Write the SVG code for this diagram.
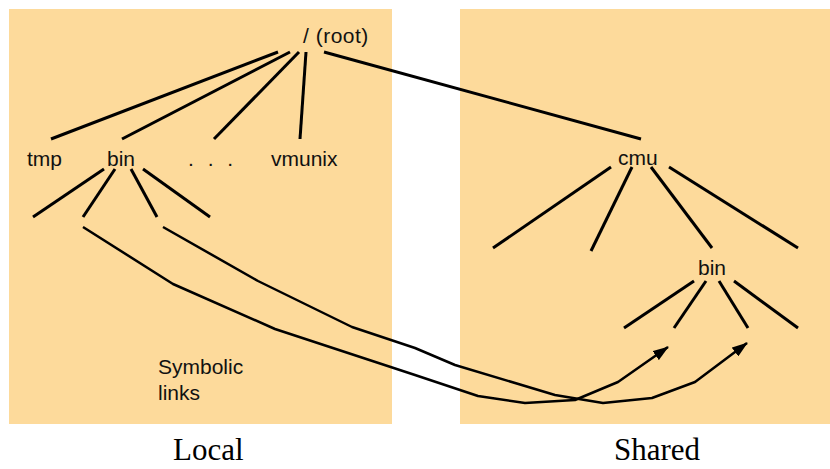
<svg xmlns="http://www.w3.org/2000/svg" width="830" height="469" viewBox="0 0 830 469">
<style>
.panel{fill:#FDDA9B;stroke:none}
.lbl{font-family:"Liberation Sans",Arial,sans-serif;font-size:21px;fill:#111}
.cap{font-family:"Liberation Serif","Times New Roman",serif;font-size:31px;fill:#000}
.tree{stroke:#000;stroke-width:3;fill:none;stroke-linecap:butt}
.link{stroke:#000;stroke-width:2.5;fill:none;stroke-linejoin:round}
</style>
<defs>
<marker id="ah" viewBox="0 0 16 11" refX="15" refY="5.5" markerWidth="16" markerHeight="11" markerUnits="userSpaceOnUse" orient="auto">
<path d="M0,0 L16,5.5 L0,11 Z" fill="#000"/>
</marker>
</defs>
<g id="panel-local"><rect class="panel" x="9" y="9" width="383" height="415"/></g>
<g id="panel-shared"><rect class="panel" x="460" y="9" width="370" height="415"/></g>

<g id="connectors">
<line class="tree" x1="278" y1="52" x2="51" y2="139"/>
<line class="tree" x1="290" y1="52" x2="122" y2="139"/>
<line class="tree" x1="299" y1="52" x2="214" y2="139"/>
<line class="tree" x1="306" y1="52" x2="300" y2="139"/>
<line class="tree" x1="324" y1="52" x2="641" y2="139"/>
<line class="tree" x1="104" y1="169" x2="33" y2="217"/>
<line class="tree" x1="115" y1="169" x2="83" y2="217"/>
<line class="tree" x1="131" y1="169" x2="157" y2="217"/>
<line class="tree" x1="143" y1="169" x2="210" y2="217"/>
<line class="tree" x1="611" y1="167" x2="493" y2="248"/>
<line class="tree" x1="632" y1="167" x2="591" y2="251"/>
<line class="tree" x1="651" y1="167" x2="712" y2="248"/>
<line class="tree" x1="669" y1="167" x2="798" y2="248"/>
<line class="tree" x1="694" y1="281" x2="624" y2="328"/>
<line class="tree" x1="706" y1="281" x2="674" y2="328"/>
<line class="tree" x1="719" y1="281" x2="748" y2="328"/>
<line class="tree" x1="734" y1="281" x2="798" y2="328"/>
<polyline class="link" marker-end="url(#ah)" points="83,227 173,284 275,329 415,375 478,396 525,403 575,400 618,382 668,347"/>
<polyline class="link" marker-end="url(#ah)" points="163,227 258,281 352,327 415,348 455,365 555,395 603,403 652,398 695,382 747,343"/>
</g>

<g id="node-root"><text class="lbl" x="303" y="43" letter-spacing="0.5">/ (root)</text></g>
<g id="node-tmp"><text class="lbl" x="27" y="166">tmp</text></g>
<g id="node-bin-local"><text class="lbl" x="107" y="166">bin</text></g>
<g id="node-dots"><text class="lbl" x="188" y="166" letter-spacing="4">. . .</text></g>
<g id="node-vmunix"><text class="lbl" x="271" y="166">vmunix</text></g>
<g id="node-cmu"><text class="lbl" x="618" y="165">cmu</text></g>
<g id="node-bin-shared"><text class="lbl" x="698" y="275">bin</text></g>
<g id="label-symlinks"><text class="lbl" x="158" y="374">Symbolic</text><text class="lbl" x="158" y="400">links</text></g>
<g id="caption-local"><text class="cap" x="173" y="460">Local</text></g>
<g id="caption-shared"><text class="cap" x="614" y="460">Shared</text></g>
</svg>
